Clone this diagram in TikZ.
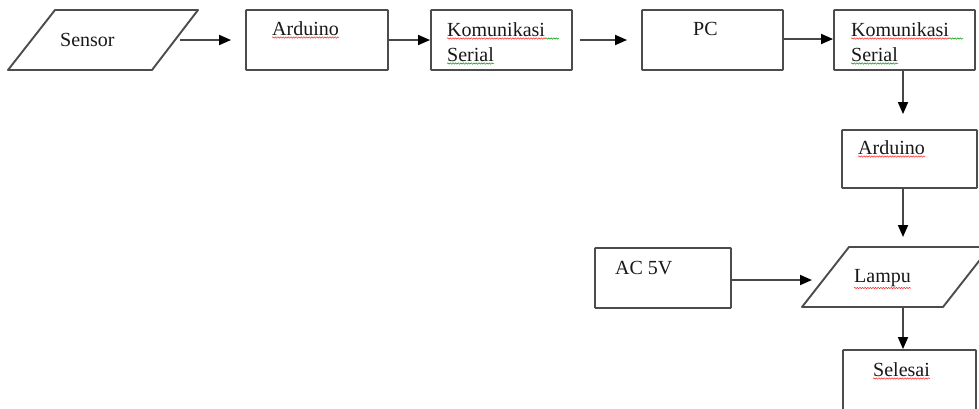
\documentclass[tikz,border=0pt]{standalone}
\usepackage{fontspec}
\setmainfont{Liberation Serif}
\usetikzlibrary{arrows.meta,decorations.pathmorphing}
\begin{document}
\begin{tikzpicture}[x=1pt,y=-1pt,
  box/.style={draw=black!70,line width=1.9pt,rounded corners=0.8pt,minimum height=60pt,inner sep=0pt},
  pline/.style={draw=black!70,line width=1.9pt,line join=round},
  txt/.style={inner sep=0pt,font=\fontsize{20}{24}\selectfont,text=black!90},
  arr/.style={draw=black!72,line width=1.8pt,-{Triangle[length=12pt,width=10pt,color=black]}},
  redsq/.style={draw=red!85,line width=0.5pt,decorate,decoration={snake,amplitude=0.7pt,segment length=2.6pt}},
  greensq/.style={draw=green!60!black,line width=0.5pt,decorate,decoration={snake,amplitude=0.7pt,segment length=2.6pt}}]
\useasboundingbox (0,0) rectangle (979,408);
\clip (0,0) rectangle (979,408);
\fill[white] (0,0) rectangle (979,408);

% boxes
\node[box,minimum width=142pt] (ard1) at (317,40) {};
\node[box,minimum width=141pt] (kom1) at (501.5,40) {};
\node[box,minimum width=141pt] (pc) at (712.5,40) {};
\node[box,minimum width=141pt] (kom2) at (904.5,40) {};
\node[box,minimum width=135pt,minimum height=58pt] (ard2) at (909.5,159) {};
\node[box,minimum width=136pt] (ac) at (663,278) {};
\node[box,minimum width=133pt,minimum height=70pt] (sel) at (909.5,385) {};

% parallelograms
\draw[pline] (55,10) -- (198,10) -- (152,70) -- (8,70) -- cycle;
\draw[pline] (849,247) -- (990,247) -- (943,307) -- (802,307) -- cycle;
\coordinate (sensorR) at (180,40);
\coordinate (lampT) at (903,247);
\coordinate (lampL) at (812,280);
\coordinate (lampB) at (903,307);

% texts
\node[txt,anchor=base west] (tsensor) at (60,46) {Sensor};
\node[txt,anchor=base west] (tard1) at (272,35) {Arduino};
\node[txt,anchor=base west] (tkom1) at (447,36) {Komunikasi};
\node[txt,anchor=base west] (tser1) at (447,61) {Serial};
\node[txt,anchor=base west] (tpc) at (693,35) {PC};
\node[txt,anchor=base west] (tkom2) at (851,36) {Komunikasi};
\node[txt,anchor=base west] (tser2) at (851,61) {Serial};
\node[txt,anchor=base west] (tard2) at (858,154) {Arduino};
\node[txt,anchor=base west] (tac) at (615,274) {AC 5V};
\node[txt,anchor=base west] (tlamp) at (854,282) {Lampu};
\node[txt,anchor=base west] (tsel) at (873,376) {Selesai};

% spell-check marks
\draw[redsq] ([yshift=-2.5pt]tard1.base west) -- ([yshift=-2.5pt]tard1.base east);
\draw[redsq] ([yshift=-2.5pt]tkom1.base west) -- ([yshift=-2.5pt]tkom1.base east);
\draw[greensq] ([yshift=-2.5pt]tkom1.base east) -- ([xshift=14pt,yshift=-2.5pt]tkom1.base east);
\draw[greensq] ([yshift=-2.5pt]tser1.base west) -- ([yshift=-2.5pt]tser1.base east);
\draw[redsq] ([yshift=-2.5pt]tkom2.base west) -- ([yshift=-2.5pt]tkom2.base east);
\draw[greensq] ([yshift=-2.5pt]tkom2.base east) -- ([xshift=14pt,yshift=-2.5pt]tkom2.base east);
\draw[greensq] ([yshift=-2.5pt]tser2.base west) -- ([yshift=-2.5pt]tser2.base east);
\draw[redsq] ([yshift=-2.5pt]tard2.base west) -- ([yshift=-2.5pt]tard2.base east);
\draw[redsq] ([yshift=-6pt]tlamp.base west) -- ([yshift=-6pt]tlamp.base east);
\draw[redsq] ([yshift=-2.5pt]tsel.base west) -- ([yshift=-2.5pt]tsel.base east);

% connectors
\draw[arr] (sensorR) -- ([xshift=-14pt]ard1.west);
\draw[arr] (ard1.east) -- (kom1.west);
\draw[arr] ([xshift=7pt]kom1.east) -- ([xshift=-14pt]pc.west);
\draw[arr] ([yshift=1pt]pc.east) -- ([yshift=1pt]kom2.west);
\draw[arr] (kom2.south -| lampT) -- ([yshift=15pt]ard2.north -| lampT);
\draw[arr] (ard2.south -| lampT) -- ([yshift=10pt]lampT);
\draw[arr] (ac.east |- lampL) -- (lampL);
\draw[arr] (lampB) -- (sel.north -| lampB);
\end{tikzpicture}
\end{document}
